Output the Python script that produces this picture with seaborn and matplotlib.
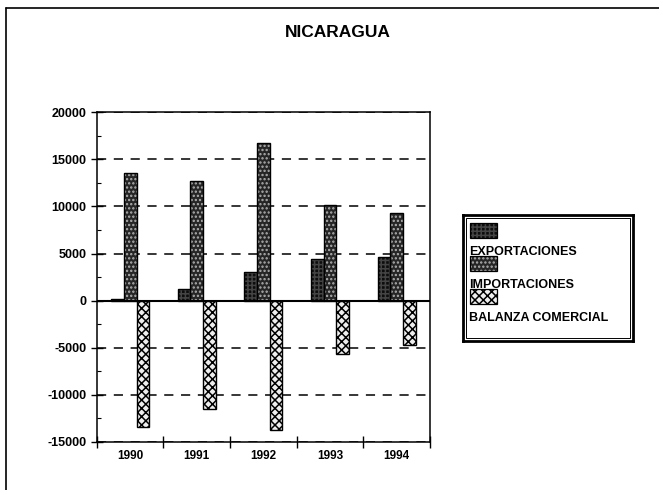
import numpy as np
import pandas as pd
import seaborn as sns
import matplotlib.pyplot as plt
from matplotlib.patches import Rectangle
from matplotlib.lines import Line2D
from matplotlib.ticker import MultipleLocator

years = ["1990", "1991", "1992", "1993", "1994"]
exportaciones = [200, 1200, 3050, 4470, 4600]
importaciones = [13600, 12700, 16780, 10140, 9260]
balanza = [-13400, -11500, -13730, -5670, -4660]
series = ["EXPORTACIONES", "IMPORTACIONES", "BALANZA COMERCIAL"]

df = pd.DataFrame({
    "year": years * 3,
    "value": exportaciones + importaciones + balanza,
    "serie": np.repeat(series, len(years)),
})

# fill, hatch, hatch colour per series
styles = {
    "EXPORTACIONES": ("#0d0d0d", "++++", "#444444"),
    "IMPORTACIONES": ("#262626", "....", "#b0b0b0"),
    "BALANZA COMERCIAL": ("#eeeeee", "xxxx", "black"),
}

sns.set_theme(style="white")
plt.rcParams['font.family'] = ['Liberation Sans', 'DejaVu Sans']
plt.rcParams['hatch.linewidth'] = 1.1
plt.rcParams['axes.unicode_minus'] = False
plt.rcParams['text.color'] = 'black'
plt.rcParams['xtick.color'] = 'black'
plt.rcParams['ytick.color'] = 'black'

fig = plt.figure(figsize=(6.59, 4.9), dpi=100)
ax = fig.add_axes([0.147, 0.098, 0.5055, 0.673])

sns.barplot(data=df, x="year", y="value", hue="serie", order=years, hue_order=series,
            palette=[styles[s][0] for s in series], width=0.57, errorbar=None,
            legend=False, saturation=1, ax=ax)

for cont, s in zip(ax.containers, series):
    fc, hatch, hc = styles[s]
    for bar in cont:
        bar.set_facecolor(fc)
        bar.set_hatch(hatch)
        bar.set_edgecolor(hc)
        bar.set_linewidth(0)
        ax.add_patch(Rectangle(bar.get_xy(), bar.get_width(), bar.get_height(),
                               fill=False, edgecolor="black", linewidth=1, zorder=bar.get_zorder()))

ax.set_ylim(-15000, 20000)
ax.set_xlim(-0.5, len(years) - 0.5)
ax.yaxis.set_major_locator(MultipleLocator(5000))
ax.yaxis.set_minor_locator(MultipleLocator(2500))
ax.set_xticks(np.arange(-0.5, len(years)), labels=[""] * (len(years) + 1))
ax.set_xticks(range(len(years)), labels=years, minor=True)
ax.tick_params(axis="y", which="major", direction="inout", length=8, width=1, labelsize=9, left=True)
ax.tick_params(axis="y", which="minor", direction="in", length=3, width=0.8, left=True)
ax.tick_params(axis="x", which="major", direction="inout", length=8, width=1, bottom=True)
ax.tick_params(axis="x", which="minor", length=0, labelsize=8.5, pad=6)
for lbl in ax.get_yticklabels() + ax.get_xticklabels(minor=True):
    lbl.set_fontweight("bold")
ax.set_xlabel("")
ax.set_ylabel("")

ax.yaxis.grid(True, which="major", linestyle=(0, (6, 5)), color="black", linewidth=1.1)
ax.set_axisbelow(True)
ax.axhline(0, color="black", linewidth=1.5, zorder=3)
for sp in ax.spines.values():
    sp.set_color("black")
    sp.set_linewidth(1.1)

fig.text(0.513, 0.933, "NICARAGUA", ha="center", va="center", fontsize=12.5, fontweight="bold")

# legend box: swatch above its label
lax = fig.add_axes([0.7026, 0.304, 0.258, 0.257])
lax.set_xlim(0, 170)
lax.set_ylim(126, 0)
lax.set_xticks([])
lax.set_yticks([])
for sp in lax.spines.values():
    sp.set_color("black")
    sp.set_linewidth(2)
lax.add_patch(Rectangle((3, 3), 164, 120, fill=False, edgecolor="black", linewidth=0.7))
for i, s in enumerate(series):
    fc, hatch, hc = styles[s]
    y0 = 8 + i * 33
    lax.add_patch(Rectangle((7, y0), 27, 15, facecolor=fc, hatch=hatch, edgecolor=hc, linewidth=0))
    lax.add_patch(Rectangle((7, y0), 27, 15, fill=False, edgecolor="black", linewidth=0.9))
    lax.text(6, y0 + 29, s, fontsize=9, fontweight="bold", va="center", ha="left")

# page frame
fig.add_artist(Line2D([6 / 659, 1], [1 - 8 / 490] * 2, transform=fig.transFigure, color="black", linewidth=1.2))
fig.add_artist(Line2D([6 / 659] * 2, [0, 1 - 8 / 490], transform=fig.transFigure, color="black", linewidth=1.2))

fig.savefig("out.png", dpi=100)
